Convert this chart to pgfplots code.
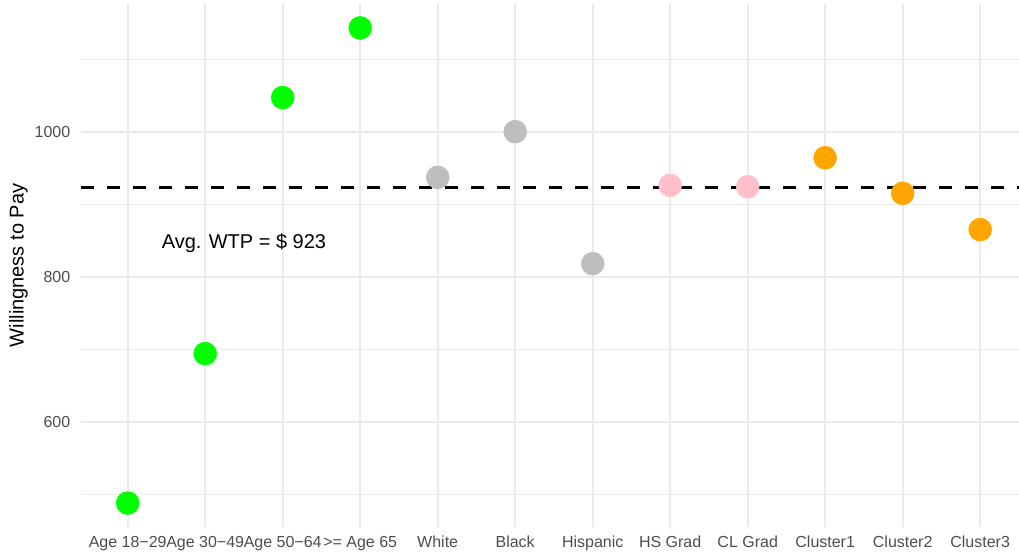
\documentclass[border=0pt]{standalone}
\usepackage{fontspec}
\setmainfont{Liberation Sans}
\usepackage{pgfplots}
\pgfplotsset{compat=1.18}
\usetikzlibrary{calc}
\definecolor{gridc}{HTML}{EBEBEB}
\definecolor{tickc}{HTML}{4D4D4D}
\definecolor{ptgreen}{HTML}{00FF00}
\definecolor{ptgray}{HTML}{BEBEBE}
\definecolor{ptpink}{HTML}{FFC0CB}
\definecolor{ptorange}{HTML}{FFA500}

\begin{document}
\begin{tikzpicture}
\begin{axis}[
  name=ax,
  scale only axis,
  width=709.1pt,
  height=392.25pt,
  xmin=0.4, xmax=12.6,
  ymin=455, ymax=1176,
  axis line style={draw=none},
  tick style={draw=none},
  xtick={1,...,12},
  xticklabels={Age 18−29,Age 30−49,Age 50−64,>= Age 65,White,Black,Hispanic,HS Grad,CL Grad,Cluster1,Cluster2,Cluster3},
  ytick={600,800,1000},
  minor ytick={500,700,900,1100},
  grid=both,
  major grid style={gridc, line width=1.3pt},
  minor grid style={gridc, line width=0.7pt},
  /pgf/number format/assume math mode=true,
  /pgf/number format/set thousands separator={},
  tick label style={font=\fontsize{12}{14}\selectfont, text=tickc},
  yticklabel style={inner sep=0pt, anchor=east, xshift=-8pt},
  xticklabel style={inner sep=0pt, anchor=north, yshift=-6.5pt},
  ylabel={Willingness to Pay},
  every axis y label/.style={at={(axis description cs:0,0.5)}, xshift=-47pt, rotate=90, anchor=center, font=\fontsize{15}{17}\selectfont},
  clip=false,
]
% age groups
\addplot[only marks, mark=*, mark size=8.6pt, color=ptgreen] coordinates {
  (1,488) (2,694) (3,1047) (4,1143)
};
% race
\addplot[only marks, mark=*, mark size=8.6pt, color=ptgray] coordinates {
  (5,937) (6,1000) (7,818)
};
% education
\addplot[only marks, mark=*, mark size=8.6pt, color=ptpink] coordinates {
  (8,926) (9,924)
};
% clusters
\addplot[only marks, mark=*, mark size=8.6pt, color=ptorange] coordinates {
  (10,964) (11,915) (12,865)
};
% average line
\addplot[black, line width=2.4pt, dash pattern=on 9.75pt off 9.75pt] coordinates {
  (0.4,923) (12.6,923)
};
\node[font=\fontsize{15}{17}\selectfont] at (axis cs:2.5,846) {Avg. WTP = \$ 923};
\end{axis}
\pgfresetboundingbox
\path[use as bounding box] ($(ax.south west)+(-60.9pt,-21.75pt)$) rectangle ($(ax.north west)+(703.35pt,3pt)$);
\end{tikzpicture}
\end{document}
